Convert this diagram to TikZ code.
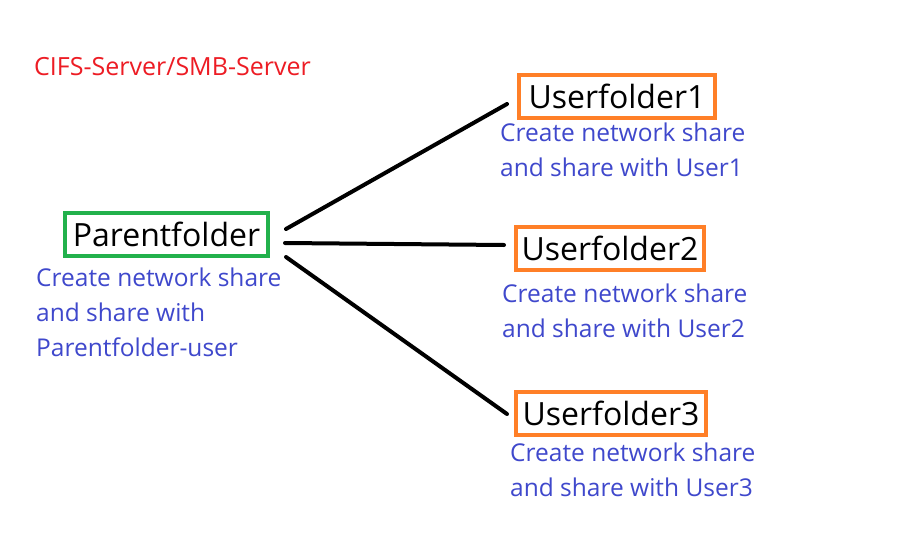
\documentclass[tikz,border=0pt]{standalone}
\usepackage{fontspec}
\setmainfont{Open Sans}
\usetikzlibrary{positioning}
\definecolor{srvred}{RGB}{237,28,36}
\definecolor{descblue}{RGB}{63,72,204}
\definecolor{boxgreen}{RGB}{34,177,76}
\definecolor{boxorange}{RGB}{255,127,39}
\tikzset{
  folder/.style={draw=#1, line width=4pt, inner sep=0pt, minimum height=43pt,
    font=\fontsize{32}{38}\selectfont},
  desc/.style={text=descblue, align=left, anchor=north west, inner sep=0pt,
    font=\fontsize{24.5}{35}\selectfont},
  link/.style={line width=4pt, line cap=round}
}

\begin{document}
\begin{tikzpicture}[x=1pt,y=-1pt]
    \useasboundingbox[fill=white] (0,0) rectangle (912,546);
    \node[anchor=base west, inner sep=0pt, text=srvred,
      font=\fontsize{25}{30}\selectfont] (server) at (34,75) {CIFS-Server/SMB-Server};
    % parent share
    \node[folder=boxgreen, minimum width=203pt] (parent) at (166.5,234.5) {Parentfolder};
    \node[desc] (pdesc) at (36,267.4) {Create network share\\and share with\\Parentfolder-user};
    % user shares
    \node[folder=boxorange, minimum width=196pt] (user1) at (617,96.5) {Userfolder1};
    \node[desc] (udesc1) at (500,122.4) {Create network share\\and share with User1};
    \node[folder=boxorange, minimum width=188pt] (user2) at (610,248) {Userfolder2};
    \node[desc] (udesc2) at (502,283.4) {Create network share\\and share with User2};
    \node[folder=boxorange, minimum width=190pt] (user3) at (611,413.5) {Userfolder3};
    \node[desc] (udesc3) at (510,442.4) {Create network share\\and share with User3};
    \draw[link] ([xshift=16pt,yshift=5.5pt]parent.east) -- ([xshift=-10pt,yshift=-7.5pt]user1.west);
    \draw[link] ([xshift=15pt,yshift=-8.5pt]parent.east) -- ([xshift=-10pt,yshift=3pt]user2.west);
    \draw[link] ([xshift=16pt,yshift=-22.5pt]parent.east) -- ([xshift=-7pt,yshift=-0.5pt]user3.west);
\end{tikzpicture}
\end{document}
